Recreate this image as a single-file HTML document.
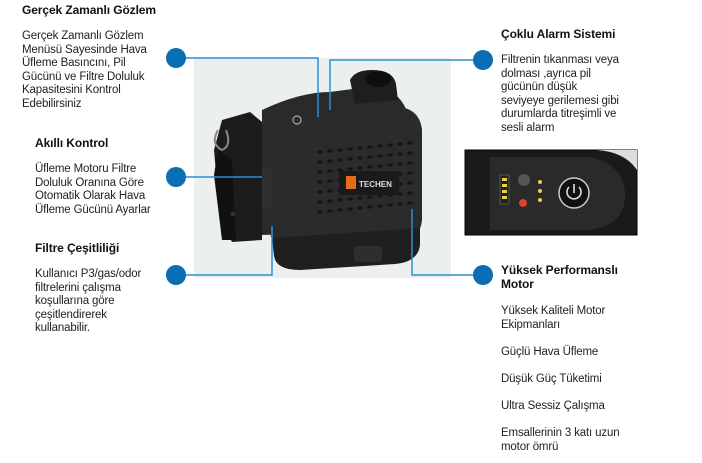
<!DOCTYPE html>
<html><head><meta charset="utf-8"><style>
*{margin:0;padding:0}
body{width:702px;height:463px;background:#fff;position:relative;overflow:hidden;font-family:"Liberation Sans",sans-serif;color:#1a1a1a}
.t{position:absolute;font-weight:bold;font-size:12px;letter-spacing:-0.1px;white-space:nowrap;color:#111}
.b{position:absolute;font-size:11.5px;line-height:13.6px;letter-spacing:-0.15px;white-space:nowrap;color:#222}
</style></head><body>
<svg width="702" height="463" style="position:absolute;left:0;top:0">
<rect x="194" y="58" width="257" height="220" fill="#eceff0"/>
<path d="M222 120 L250 112 L262 122 L262 240 L232 242 L220 220 L214 150 Z" fill="#1c1c1e"/>
<path d="M218 150 L214 175 L222 240 L236 240 L232 160 Z" fill="#111"/>
<path d="M218 130 q-8 14 4 20 q10-4 4-20" fill="none" stroke="#888" stroke-width="2"/>
<circle cx="233" cy="214" r="2.5" fill="#333"/>
<path d="M262 110 Q300 92 330 92 L360 88 L390 92 Q410 100 412 140 L412 230 L262 235 Z" fill="#2a2a2c"/>
<path d="M350 80 Q355 70 372 70 Q393 70 396 84 L398 100 L355 104 Z" fill="#1e1e20"/>
<ellipse cx="378" cy="79" rx="13" ry="8" fill="#0e0e0e"/>
<path d="M270 138 Q270 118 290 114 L395 106 Q420 108 422 130 L422 220 Q420 240 400 244 L295 250 Q272 250 270 232 Z" fill="#2b2b2d"/>
<path d="M272 238 L420 228 L420 245 Q418 262 395 264 L300 270 Q276 270 274 256 Z" fill="#1f1f21"/>
<rect x="354" y="246" width="28" height="16" rx="2" fill="#2d2d2f"/>
<g fill="#151517">
<g id="r"><ellipse cx="320" cy="152" rx="3" ry="1.6"/><ellipse cx="330" cy="151" rx="3" ry="1.6"/><ellipse cx="340" cy="150" rx="3" ry="1.6"/><ellipse cx="350" cy="149" rx="3" ry="1.6"/><ellipse cx="360" cy="148" rx="3" ry="1.6"/><ellipse cx="370" cy="147" rx="3" ry="1.6"/><ellipse cx="380" cy="146" rx="3" ry="1.6"/><ellipse cx="390" cy="145" rx="3" ry="1.6"/><ellipse cx="400" cy="144" rx="3" ry="1.6"/><ellipse cx="410" cy="143" rx="3" ry="1.6"/></g>
<use href="#r" y="10"/><use href="#r" y="20"/><use href="#r" y="30"/><use href="#r" y="40"/><use href="#r" y="50"/><use href="#r" y="60"/>
</g>
<rect x="339" y="171" width="60" height="24" rx="2" fill="#1a1a1a"/>
<rect x="346" y="176" width="10" height="13" fill="#e46c1a"/>
<text x="359" y="187" font-family="Liberation Sans" font-size="8" font-weight="bold" fill="#ddd">TECHEN</text>
<circle cx="297" cy="120" r="4" fill="none" stroke="#aaa" stroke-width="1.2"/>
<rect x="262" y="168" width="10" height="40" fill="#303033"/>
<g stroke="#2a8fd6" stroke-width="1.5" fill="none">
<polyline points="176,58 318,58 318,117"/>
<polyline points="483,60 330,60 330,110"/>
<polyline points="176,177 262,177"/>
<polyline points="176,275 272,275 272,226"/>
<polyline points="483,275 412,275 412,209"/>
</g>
<g fill="#0a6eb4">
<circle cx="176" cy="58" r="10"/><circle cx="483" cy="60" r="10"/>
<circle cx="176" cy="177" r="10"/><circle cx="176" cy="275" r="10"/>
<circle cx="483" cy="275" r="10"/>
</g>
<rect x="465" y="150" width="172" height="85" fill="#1a1a1a" stroke="#000"/>
<path d="M490 157 L590 157 Q625 165 625 195 Q625 225 590 230 L490 230 Z" fill="#2a2a2c"/>
<path d="M597 150 Q625 152 637 170 L637 150 Z" fill="#ddd"/>
<rect x="500" y="175" width="9" height="29" fill="#222" stroke="#555"/>
<g fill="#e8d24a"><rect x="502" y="178" width="5" height="3"/><rect x="502" y="184" width="5" height="3"/><rect x="502" y="190" width="5" height="3"/><rect x="502" y="196" width="5" height="3"/></g>
<circle cx="524" cy="180" r="6" fill="#555"/>
<circle cx="523" cy="203" r="4" fill="#e0402a"/>
<g fill="#e8d24a"><circle cx="540" cy="182" r="2"/><circle cx="540" cy="191" r="2"/><circle cx="540" cy="200" r="2"/></g>
<circle cx="574" cy="193" r="15" fill="#111" stroke="#ccc" stroke-width="1.5"/>
<path d="M569 187 a7 7 0 1 0 10 0" fill="none" stroke="#ddd" stroke-width="1.6"/>
<line x1="574" y1="184" x2="574" y2="193" stroke="#ddd" stroke-width="1.6"/>
</svg>

<div class="t" style="left:22px;top:3px">Gerçek Zamanlı Gözlem</div>
<div class="b" style="left:22px;top:30px">Gerçek Zamanlı Gözlem<br>Menüsü Sayesinde Hava<br>Üfleme Basıncını, Pil<br>Gücünü ve Filtre Doluluk<br>Kapasitesini Kontrol<br>Edebilirsiniz</div>

<div class="t" style="left:35px;top:136px">Akıllı Kontrol</div>
<div class="b" style="left:35px;top:163px">Üfleme Motoru Filtre<br>Doluluk Oranına Göre<br>Otomatik Olarak Hava<br>Üfleme Gücünü Ayarlar</div>

<div class="t" style="left:35px;top:241px">Filtre Çeşitliliği</div>
<div class="b" style="left:35px;top:268px">Kullanıcı P3/gas/odor<br>filtrelerini çalışma<br>koşullarına göre<br>çeşitlendirerek<br>kullanabilir.</div>

<div class="t" style="left:501px;top:27px">Çoklu Alarm Sistemi</div>
<div class="b" style="left:501px;top:54px">Filtrenin tıkanması veya<br>dolması ,ayrıca pil<br>gücünün düşük<br>seviyeye gerilemesi gibi<br>durumlarda titreşimli ve<br>sesli alarm</div>

<div class="t" style="left:501px;top:264px;line-height:13.5px">Yüksek Performanslı<br>Motor</div>
<div class="b" style="left:501px;top:305px">Yüksek Kaliteli Motor<br>Ekipmanları</div>
<div class="b" style="left:501px;top:346px">Güçlü Hava Üfleme</div>
<div class="b" style="left:501px;top:373px">Düşük Güç Tüketimi</div>
<div class="b" style="left:501px;top:400px">Ultra Sessiz Çalışma</div>
<div class="b" style="left:501px;top:427px">Emsallerinin 3 katı uzun<br>motor ömrü</div>
</body></html>
